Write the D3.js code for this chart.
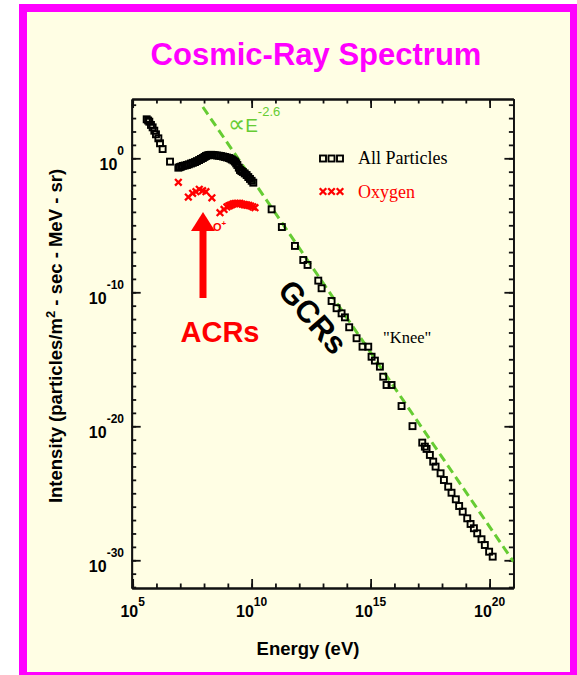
<!DOCTYPE html>
<html>
<head>
<meta charset="utf-8">
<script src="https://cdnjs.cloudflare.com/ajax/libs/d3/7.8.5/d3.min.js"></script>
<style>
body { margin: 0; background: #fff; }
</style>
</head>
<body>
<div class="chart"></div>
<script>
// values, kept as log10 exponents (energy in eV, intensity)
const allLogE = [5.59, 5.65, 5.70, 5.77, 5.84, 5.91, 5.98, 6.08, 6.15, 6.26, 6.57,
  6.92, 6.98, 7.04, 7.11, 7.19, 7.28, 7.36, 7.45, 7.53, 7.62, 7.70, 7.79, 7.87, 7.95,
  8.02, 8.08, 8.15, 8.22, 8.30, 8.37, 8.45, 8.54, 8.62, 8.71, 8.80, 8.88, 8.96, 9.05,
  9.11, 9.17, 9.24, 9.30, 9.35, 9.40, 9.46, 9.51, 9.57, 9.63, 9.71, 9.79, 9.86, 9.93,
  10.00, 10.07, 10.84, 11.27, 11.82, 12.17, 12.35, 12.80, 12.94, 13.36, 13.57, 13.78,
  13.92, 14.10, 14.41, 14.66, 14.90, 15.04, 15.18, 15.39, 15.53, 15.67, 15.88, 16.30,
  16.76, 17.17, 17.28, 17.35, 17.49, 17.63, 17.73, 17.94, 18.08, 18.26, 18.40, 18.58,
  18.72, 18.87, 19.06, 19.20, 19.34, 19.48, 19.66, 19.80, 19.98, 20.13]
const allLogI = [2.91, 2.82, 2.73, 2.49, 2.31, 2.06, 1.79, 1.49, 1.12, 0.69, -0.25,
  -0.70, -0.66, -0.62, -0.57, -0.54, -0.50, -0.45, -0.39, -0.34, -0.28, -0.21, -0.13, -0.05, 0.02,
  0.10, 0.17, 0.22, 0.25, 0.26, 0.25, 0.23, 0.21, 0.19, 0.17, 0.13, 0.10, 0.06, 0.02,
  -0.03, -0.09, -0.16, -0.25, -0.38, -0.50, -0.70, -0.87, -0.95, -1.02, -1.13, -1.25, -1.40, -1.54,
  -1.68, -1.82, -3.81, -5.13, -6.54, -7.59, -7.96, -9.13, -9.70, -10.65, -11.19, -11.57,
  -11.87, -12.61, -13.43, -14.06, -14.06, -14.81, -15.10, -15.55, -16.30, -16.92, -16.92, -18.49,
  -19.99, -21.22, -21.52, -21.69, -22.14, -22.64, -23.01, -23.51, -24.01, -24.51, -24.96, -25.45,
  -25.95, -26.37, -26.87, -27.29, -27.61, -27.99, -28.43, -28.86, -29.36, -29.73]

const oxyLogE = [6.92, 7.34, 7.52, 7.66, 7.80, 7.94, 8.08, 8.33, 8.67, 8.84, 8.96, 9.04,
  9.09, 9.16, 9.23, 9.30, 9.37, 9.44, 9.51, 9.60, 9.68, 9.74, 9.80, 9.88, 9.96, 10.05, 10.14]
const oxyLogI = [-1.79, -2.89, -2.61, -2.49, -2.31, -2.42, -2.49, -2.95, -4.06, -3.82, -3.63, -3.55,
  -3.52, -3.46, -3.41, -3.38, -3.36, -3.36, -3.37, -3.42, -3.45, -3.47, -3.49, -3.52, -3.56, -3.62, -3.69]

// E^-2.6 guide line
const fitLogE = [7.95, 21]
const fitLogI = [3.83, -30.1]

const xMajor = [5, 10, 15, 20]
const yMajor = [0, -10, -20, -30]
const xMinor = d3.range(5, 22)
const yMinor = d3.range(-32, 5)

const green = "#66cc33"
const cream = "#fffee4"
const sans = "'Liberation Sans', Arial, sans-serif"
const serif = "'Liberation Serif', 'Times New Roman', serif"

const W = 577, H = 675
const pLeft = 131.7, pRight = 513.4, pTop = 99, pBottom = 588

const svg = d3.select(".chart").append("svg")
  .attr("width", W).attr("height", H)
  .style("font-family", sans)

// magenta frame
svg.append("rect").attr("x", 23).attr("y", 8).attr("width", 551).attr("height", 668)
  .attr("fill", cream).attr("stroke", "#ff00ff").attr("stroke-width", 8)

const x = d3.scaleLog().domain([10 ** 4.96, 1e21]).range([pLeft, pRight])
const y = d3.scaleLog().domain([10 ** -32.07, 10 ** 4.425]).range([pBottom, pTop])

svg.append("text").attr("x", 316).attr("y", 65).attr("text-anchor", "middle")
  .attr("font-size", 31).attr("font-weight", "bold").attr("fill", "#ff00ff")
  .text("Cosmic-Ray Spectrum")

// axes, ticks inward on all four sides
function drawAxis(axis, tx, ty, vals, size) {
  const g = svg.append("g").attr("transform", `translate(${tx},${ty})`)
    .call(axis.tickValues(vals.map(v => 10 ** v)).tickSize(-size).tickSizeOuter(0).tickFormat(""))
  g.selectAll("path, line").attr("stroke", "#111").attr("stroke-width", 1.8)
}
;[[xMinor, 4.5], [xMajor, 9]].forEach(([v, s]) => {
  drawAxis(d3.axisBottom(x), 0, pBottom, v, s)
  drawAxis(d3.axisTop(x), 0, pTop, v, s)
})
;[[yMinor, 4.5], [yMajor, 9]].forEach(([v, s]) => {
  drawAxis(d3.axisLeft(y), pLeft, 0, v, s)
  drawAxis(d3.axisRight(y), pRight, 0, v, s)
})

xMajor.forEach(e => {
  const t = svg.append("text").attr("x", x(10 ** e)).attr("y", 617)
    .attr("text-anchor", "middle").attr("font-weight", "bold").attr("font-size", 16)
  t.append("tspan").text("10")
  t.append("tspan").attr("dy", -11.5).attr("font-size", 12).text(e)
})
yMajor.forEach(e => {
  const t = svg.append("text").attr("x", 124).attr("y", y(10 ** e) + 12)
    .attr("text-anchor", "end").attr("font-weight", "bold").attr("font-size", 16)
  t.append("tspan").text("10")
  t.append("tspan").attr("dy", -15.5).attr("font-size", 12).text(e)
})

svg.append("text").attr("x", 308).attr("y", 655).attr("text-anchor", "middle")
  .attr("font-size", 18.5).attr("font-weight", "bold").text("Energy (eV)")

const yt = svg.append("text").attr("transform", "translate(62,336) rotate(-90)")
  .attr("text-anchor", "middle").attr("font-size", 18.5).attr("font-weight", "bold")
yt.append("tspan").text("Intensity (particles/m")
yt.append("tspan").attr("dy", -7).attr("font-size", 13).text("2")
yt.append("tspan").attr("dy", 7).text(" - sec - MeV - sr)")

const plot = svg.append("g")
svg.append("clipPath").attr("id", "clip").append("rect")
  .attr("x", pLeft).attr("y", pTop).attr("width", pRight - pLeft).attr("height", pBottom - pTop)

// guide line
plot.append("path")
  .datum(fitLogE.map((e, i) => [10 ** e, 10 ** fitLogI[i]]))
  .attr("clip-path", "url(#clip)")
  .attr("d", d3.line().x(d => x(d[0])).y(d => y(d[1])))
  .attr("fill", "none").attr("stroke", green).attr("stroke-width", 3)
  .attr("stroke-dasharray", "9,5")

const fitLab = svg.append("text").attr("x", 228).attr("y", 132)
  .attr("fill", green).attr("font-size", 19)
fitLab.append("tspan").attr("font-size", 24).style("font-family", "'DejaVu Sans', sans-serif").text("\u221d")
fitLab.append("tspan").attr("font-size", 19).text("E")
fitLab.append("tspan").attr("dy", -16).attr("font-size", 13).text("-2.6")

// all particles
const allData = allLogE.map((e, i) => ({ E: 10 ** e, I: 10 ** allLogI[i] }))
plot.selectAll("rect.all").data(allData).enter().append("rect")
  .attr("class", "all")
  .attr("x", d => x(d.E) - 3).attr("y", d => y(d.I) - 3)
  .attr("width", 6).attr("height", 6)
  .attr("fill", "none").attr("stroke", "#000").attr("stroke-width", 1.9)

// oxygen
const cross = "M-3.3,-3.3L3.3,3.3M-3.3,3.3L3.3,-3.3"
const oxyData = oxyLogE.map((e, i) => ({ E: 10 ** e, I: 10 ** oxyLogI[i] }))
plot.selectAll("path.oxy").data(oxyData).enter().append("path")
  .attr("class", "oxy")
  .attr("transform", d => `translate(${x(d.E)},${y(d.I)})`)
  .attr("d", cross).attr("stroke", "#ff0000").attr("stroke-width", 2.3)

// legend
;[323, 331.5, 340].forEach(cx => {
  svg.append("rect").attr("x", cx - 3).attr("y", 155.5).attr("width", 6).attr("height", 6)
    .attr("fill", "none").attr("stroke", "#000").attr("stroke-width", 1.9)
  svg.append("path").attr("transform", `translate(${cx},191.5)`)
    .attr("d", cross).attr("stroke", "#ff0000").attr("stroke-width", 2.3)
})
svg.append("text").attr("x", 358).attr("y", 164).attr("font-size", 18)
  .style("font-family", serif).text("All Particles")
svg.append("text").attr("x", 358).attr("y", 198).attr("font-size", 18).attr("fill", "#ff0000")
  .style("font-family", serif).text("Oxygen")

svg.append("text").attr("x", 383).attr("y", 343).attr("font-size", 16.5)
  .style("font-family", serif).text("\"Knee\"")

// annotations
svg.append("text").attr("transform", "translate(313,317) rotate(49)")
  .attr("text-anchor", "middle").attr("dy", "0.35em")
  .attr("font-size", 31).attr("font-weight", "bold").text("GCRs")

svg.append("text").attr("x", 220).attr("y", 342).attr("text-anchor", "middle")
  .attr("font-size", 29).attr("font-weight", "bold").attr("fill", "#ff0000").text("ACRs")

svg.append("rect").attr("x", 199.5).attr("y", 228).attr("width", 7).attr("height", 70)
  .attr("fill", "#ff0000")
svg.append("path").attr("d", "M191,231L203,212L215,231Z").attr("fill", "#ff0000")
const op = svg.append("text").attr("x", 213).attr("y", 231).attr("font-size", 11)
  .attr("font-weight", "bold").attr("fill", "#ff0000")
op.append("tspan").text("O")
op.append("tspan").attr("dy", -5).attr("font-size", 8).text("+")
</script>
</body>
</html>
